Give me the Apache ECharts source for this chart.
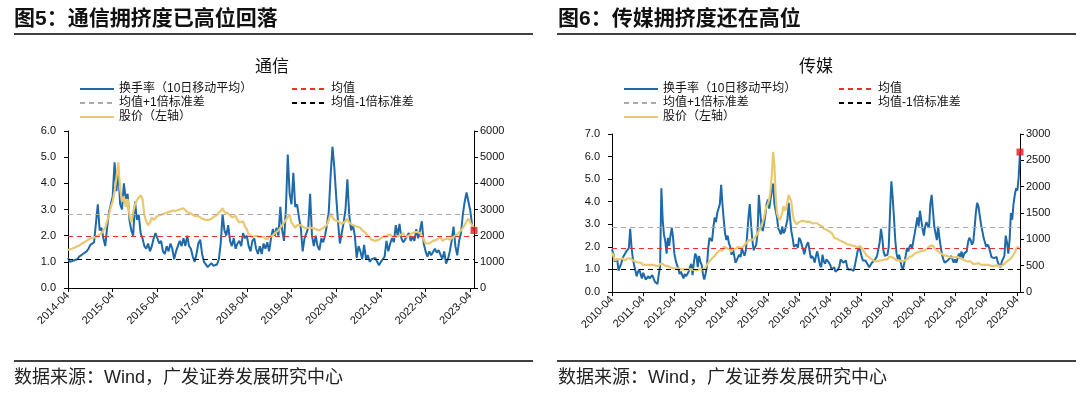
<!DOCTYPE html>
<html><head><meta charset="utf-8">
<script src="https://cdn.jsdelivr.net/npm/echarts@6/dist/echarts.min.js"></script>
<style>html,body{margin:0;padding:0;background:#fff}#c{width:1080px;height:395px}</style>
</head><body><div id="c"></div>
<script>
// ---------- data (semi-monthly samples) ----------
// 通信: 2014-04 .. 2023-05
const txTurnover = [
1.15,1.0,0.98,1.05,1.0,1.1,1.2,1.15,1.3,1.25,1.4,1.5,1.65,1.6,1.75,1.7,3.2,2.2,2.3,1.9,1.6,2.3,2.9,3.2,
3.5,4.8,3.7,4.5,3.2,3.0,4.0,3.4,3.6,2.6,2.2,2.0,3.3,2.6,2.8,2.1,1.9,1.6,1.5,1.7,1.4,1.6,1.9,2.1,
1.9,1.7,1.8,1.4,1.3,1.6,1.4,1.7,1.5,1.1,1.4,1.6,1.8,1.6,1.9,1.6,2.0,1.6,1.5,1.2,1.0,1.3,1.7,1.85,
1.3,1.0,0.9,0.8,0.85,0.95,0.85,0.8,0.9,1.1,1.7,2.8,2.2,2.0,2.4,1.8,1.6,1.9,1.5,1.7,1.8,1.6,2.1,1.9,
2.0,1.6,1.4,1.8,1.9,1.5,1.3,1.6,1.3,1.7,1.5,1.75,1.4,1.9,2.25,2.0,2.3,2.0,3.1,2.2,1.8,3.0,5.1,3.6,
3.2,4.4,3.1,3.2,2.7,2.3,1.4,1.9,2.1,2.3,3.6,2.0,1.6,2.0,1.6,1.45,1.9,1.75,2.0,2.4,2.9,4.3,5.4,4.6,
3.5,2.5,1.7,2.1,2.5,3.0,4.15,2.8,2.2,2.4,2.0,1.15,1.6,1.4,1.1,1.65,1.1,1.25,1.0,1.1,1.05,1.15,1.0,0.87,
1.0,1.1,1.2,1.8,1.4,1.7,1.9,1.75,2.4,2.0,2.45,1.9,1.75,1.85,1.9,2.1,1.8,1.95,1.8,2.25,1.9,2.2,2.55,1.7,
1.4,1.2,1.4,1.25,1.3,1.5,1.35,1.45,1.4,1.1,1.4,0.93,1.1,1.4,1.8,2.35,1.6,1.25,1.8,2.1,2.8,3.3,3.65,3.7,
2.95,2.4,2.2];
const txPrice = [
1450,1480,1500,1530,1560,1600,1620,1680,1720,1760,1800,1850,1900,1880,1930,1980,2000,2050,2100,2200,2300,2550,2800,3100,
3300,3700,4200,4800,3800,3300,3500,3100,3400,2800,2500,2900,3200,3350,3450,3550,3400,2800,2550,2400,2500,2700,2600,2650,
2750,2700,2800,2750,2850,2850,2900,2850,2950,2900,2950,2950,3000,2950,3050,3050,2900,2950,2850,2800,2750,2700,2750,2750,
2650,2600,2600,2650,2600,2650,2700,2700,2800,2850,2950,3050,2900,2950,2850,2800,2700,2750,2750,2600,2500,2550,2550,2350,
2250,2050,2000,1950,2000,2000,1950,1950,1900,1950,1900,1850,1950,1950,2000,2100,2150,2200,2300,2400,2500,2600,2650,2800,
2500,2400,2300,2400,2350,2400,2350,2300,2250,2300,2350,2300,2300,2250,2300,2200,2200,2300,2350,2400,2600,2850,2700,2600,
2550,2550,2500,2450,2400,2550,2650,2500,2450,2400,2350,2350,2300,2300,2200,2150,2100,2000,1950,1850,1850,1800,1800,1850,
1900,1950,1950,2000,2000,2050,1950,1900,1950,1950,2000,2050,2100,1950,1900,2000,2050,2100,2150,2150,2100,2100,2000,1850,
1700,1650,1700,1750,1800,1800,1850,1900,1950,1800,1850,1900,1900,1850,1900,1950,2000,2050,2100,2200,2300,2400,2550,2650,
2500,2400,2300];
const txMean = 1.96, txUpper = 2.82, txLower = 1.10;

// 传媒: 2010-04 .. 2023-05
const cmTurnover = [
1.9,1.7,1.35,1.3,1.45,0.95,1.1,1.25,1.45,1.6,1.7,1.8,1.85,1.95,2.8,2.0,1.5,1.2,0.95,0.7,0.9,1.0,0.8,0.6,
0.85,0.7,0.55,0.5,0.7,0.6,0.65,0.75,0.6,0.45,0.4,0.35,0.8,1.1,4.6,3.2,2.55,2.25,1.7,2.4,2.05,2.5,2.85,2.4,
1.7,1.4,1.2,1.05,0.8,0.9,0.95,0.6,0.8,0.7,0.65,0.9,1.1,1.25,0.75,1.3,1.7,1.6,1.1,1.6,1.35,1.2,0.8,0.55,
0.8,1.1,1.9,2.4,2.4,2.25,2.85,3.3,3.1,3.5,3.7,3.9,4.75,3.9,3.2,2.6,2.3,2.5,2.15,2.0,1.65,1.95,1.9,1.3,
1.4,1.55,1.65,1.55,1.95,1.75,1.6,1.85,2.5,3.3,3.9,3.0,2.3,1.85,1.9,2.1,2.6,4.3,3.6,2.9,2.7,3.0,3.4,3.9,
4.1,3.7,3.7,4.5,4.8,3.9,3.6,3.3,2.8,2.7,2.55,2.9,2.6,2.7,2.7,3.2,3.95,3.3,2.7,2.4,2.0,2.0,2.1,1.95,
2.4,2.3,2.1,1.9,1.67,1.95,2.1,2.2,1.85,1.5,1.6,1.5,1.3,1.6,1.8,1.5,1.2,1.1,1.65,1.35,1.25,1.45,1.4,1.3,
1.2,1.0,0.95,1.1,0.9,0.85,1.0,1.15,1.45,1.5,1.3,1.3,1.4,1.1,1.0,1.0,1.0,0.94,0.94,1.2,1.5,1.8,1.97,1.85,
1.6,1.4,1.45,1.4,1.3,1.2,1.1,1.15,1.3,1.38,1.4,1.45,1.6,1.9,2.2,2.8,2.4,1.8,1.6,1.55,1.65,2.0,3.6,4.9,
4.2,3.3,2.3,1.7,1.45,1.65,1.38,1.1,1.0,1.3,1.6,1.95,1.8,2.0,2.1,1.95,2.3,2.6,2.95,3.3,2.9,3.6,3.6,2.8,
2.5,2.9,3.1,2.95,2.85,3.9,4.3,3.6,2.9,2.6,2.3,2.9,2.4,2.0,1.65,1.45,1.3,1.25,1.38,1.3,1.5,1.6,1.6,1.3,
1.45,1.3,1.5,1.7,1.55,1.8,1.5,1.7,1.7,1.8,2.2,2.4,2.3,2.1,2.2,2.8,3.5,3.95,3.8,3.4,3.0,2.7,2.4,2.2,
2.0,2.1,2.0,1.8,1.55,1.6,1.5,1.45,1.55,1.3,1.2,1.1,1.35,1.3,1.6,2.5,2.2,1.7,2.3,3.5,3.2,3.9,4.3,4.6,
4.5,5.1,6.2];
const cmPrice = [
750,690,600,590,620,600,620,600,640,620,600,620,640,620,640,620,600,580,580,560,560,540,560,540,
515,535,515,535,515,535,515,535,515,495,495,470,495,535,560,535,515,495,515,495,470,470,450,450,
470,450,430,450,450,430,430,430,420,430,430,430,420,430,410,420,430,410,410,430,410,430,450,430,
470,515,535,580,600,640,665,685,705,750,770,790,815,790,860,860,835,815,815,790,770,815,835,815,
835,860,860,835,815,860,900,920,940,985,965,985,965,1005,1030,1070,1115,1155,1200,1245,1330,1415,1545,1630,
1670,1755,1930,2230,2660,2400,1800,1500,1415,1370,1415,1500,1630,1545,1585,1715,1845,1865,1715,1500,1370,1330,1285,1305,
1330,1305,1350,1330,1345,1330,1330,1305,1335,1330,1305,1330,1305,1330,1305,1285,1265,1285,1245,1200,1220,1180,1190,1155,
1155,1120,1080,1030,1020,1010,995,985,970,960,950,940,925,905,915,900,900,880,880,870,850,845,860,875,
840,800,780,730,690,670,660,650,620,595,585,590,580,600,600,590,600,620,620,640,620,665,685,665,
640,640,620,600,620,600,590,580,580,600,610,620,640,665,685,685,715,730,735,750,765,770,780,780,
770,790,815,835,845,880,900,880,835,815,790,770,750,730,720,705,695,705,685,685,665,665,655,655,
665,685,665,640,640,620,620,600,590,600,580,560,580,560,535,525,535,560,550,535,515,535,515,525,
515,505,515,505,495,515,495,495,505,515,495,480,495,515,535,560,580,600,620,640,665,685,750,815,
860,835,815];
const cmMean = 1.94, cmUpper = 2.89, cmLower = 0.99;

const legendNames = ['换手率（10日移动平均）','均值','均值+1倍标准差','均值-1倍标准差','股价（左轴）'];

// category list: the 1st and 16th of each month
function halfMonths(y0, m0, y1, m1) {
  const out = []; let y = y0, m = m0;
  while (y < y1 || (y === y1 && m <= m1)) {
    const mm = String(m).padStart(2, '0');
    out.push(y + '-' + mm + '-01');
    if (!(y === y1 && m === m1)) out.push(y + '-' + mm + '-16');
    m++; if (m > 12) { m = 1; y++; }
  }
  return out;
}
const txDates = halfMonths(2014, 4, 2023, 5);
const cmDates = halfMonths(2010, 4, 2023, 5);

// ---------- styling ----------
const FONT = '"Liberation Sans", Arial, "Noto Sans CJK SC", sans-serif';
const CJK = '"Liberation Sans", "Noto Sans CJK SC", sans-serif';
const BLUE = '#1f69a8', GOLD = '#e8c870', RED = '#e8302c', GRAY = '#aaaaaa', BLACK = '#000000';
const DASH = [5, 4];
const isApril = (i, v) => v.slice(5) === '04-01';

function xAxisFor(gi, cats) {
  return {
    type: 'category', gridIndex: gi, data: cats, boundaryGap: false,
    axisLine: { lineStyle: { color: '#000', width: 1 } },
    axisTick: { show: true, interval: isApril, length: 4, lineStyle: { color: '#000' } },
    axisLabel: { interval: isApril, rotate: 45, margin: 6, fontSize: 11, color: '#111', fontFamily: FONT,
      formatter: v => v.slice(0, 7) },
    splitLine: { show: false }
  };
}
function yAxisFor(gi, max, step, pos, fmt, margin) {
  return {
    type: 'value', gridIndex: gi, min: 0, max: max, interval: step, position: pos,
    axisLine: { show: true, lineStyle: { color: '#000', width: 1 } },
    axisTick: { show: true, length: 4, lineStyle: { color: '#000' } },
    axisLabel: { fontSize: 11, color: '#111', fontFamily: FONT, margin: margin, formatter: fmt },
    splitLine: { show: false }
  };
}
function refLine(name, color, val, xi, yi) {
  return {
    name: name, type: 'line', xAxisIndex: xi, yAxisIndex: yi, data: [], symbol: 'none',
    lineStyle: { color: color, type: DASH, width: 1.2 }, itemStyle: { color: color }, z: 1,
    markLine: { silent: true, symbol: ['none', 'none'], label: { show: false }, animation: false,
      lineStyle: { color: color, type: DASH, width: 1.2 }, data: [{ yAxis: val }] }
  };
}
function panelSeries(xi, yl, yr, turnover, price, mean, upper, lower) {
  return [
    refLine('均值+1倍标准差', GRAY, upper, xi, yl),
    refLine('均值', RED, mean, xi, yl),
    refLine('均值-1倍标准差', BLACK, lower, xi, yl),
    { name: '换手率（10日移动平均）', type: 'line', xAxisIndex: xi, yAxisIndex: yl, data: turnover,
      symbol: 'none', lineStyle: { color: BLUE, width: 2 }, itemStyle: { color: BLUE }, z: 3 },
    { name: '股价（左轴）', type: 'line', xAxisIndex: xi, yAxisIndex: yr, data: price,
      symbol: 'none', lineStyle: { color: GOLD, width: 2.2 }, itemStyle: { color: GOLD }, z: 4 },
    { name: 'last', type: 'scatter', xAxisIndex: xi, yAxisIndex: yl,
      data: [[turnover.length - 1, turnover[turnover.length - 1]]],
      symbol: 'rect', symbolSize: 7, itemStyle: { color: '#e8141b' }, z: 6 }
  ];
}
function legendsFor(x1, x2, y0) {
  const pos = [[x1, y0], [x2, y0], [x1, y0 + 14], [x2, y0 + 14], [x1, y0 + 28]];
  return legendNames.map((n, k) => ({
    data: [n], left: pos[k][0], top: pos[k][1], padding: 0, itemWidth: 34, itemHeight: 10,
    selectedMode: false, itemStyle: { opacity: 0, borderWidth: 0 },
    textStyle: { fontSize: 12, color: '#111', fontFamily: CJK }
  }));
}
function text(x, y, s, font, align, color) {
  return { type: 'text', x: x, y: y, silent: true,
    style: { text: s, font: font, fill: color || '#111', textAlign: align || 'left', align: align || 'left',
      textVerticalAlign: 'middle', verticalAlign: 'middle' } };
}
function hline(x1, x2, y, w) {
  return { type: 'line', silent: true, shape: { x1: x1, y1: y, x2: x2, y2: y }, style: { stroke: '#000', lineWidth: w } };
}

const chart = echarts.init(document.getElementById('c'), null, { renderer: 'canvas' });
chart.setOption({
  animation: false,
  backgroundColor: '#fff',
  grid: [
    { left: 68, top: 131, width: 406, height: 157 },
    { left: 612, top: 134, width: 408, height: 158 }
  ],
  xAxis: [xAxisFor(0, txDates), xAxisFor(1, cmDates)],
  yAxis: [
    yAxisFor(0, 6, 1, 'left', v => v.toFixed(1), 12),
    yAxisFor(0, 6000, 1000, 'right', v => String(v), 6),
    yAxisFor(1, 7, 1, 'left', v => v.toFixed(1), 12),
    yAxisFor(1, 3000, 500, 'right', v => String(v), 6)
  ],
  legend: legendsFor(79, 291, 83).concat(legendsFor(623, 838, 83)),
  series: panelSeries(0, 0, 1, txTurnover, txPrice, txMean, txUpper, txLower)
    .concat(panelSeries(1, 2, 3, cmTurnover, cmPrice, cmMean, cmUpper, cmLower)),
  graphic: [
    text(14, 19, '图5：通信拥挤度已高位回落', 'bold 21px ' + CJK),
    hline(14, 533, 34, 1.3),
    text(272, 67, '通信', '17px ' + CJK, 'center'),
    hline(14, 533, 361, 1.3),
    text(14, 378, '数据来源：Wind，广发证券发展研究中心', '18px ' + CJK, 'left', '#222'),
    text(558, 19, '图6：传媒拥挤度还在高位', 'bold 21px ' + CJK),
    hline(557, 1076, 34, 1.3),
    text(816, 67, '传媒', '17px ' + CJK, 'center'),
    hline(557, 1076, 361, 1.3),
    text(558, 378, '数据来源：Wind，广发证券发展研究中心', '18px ' + CJK, 'left', '#222')
  ]
});
</script></body></html>
